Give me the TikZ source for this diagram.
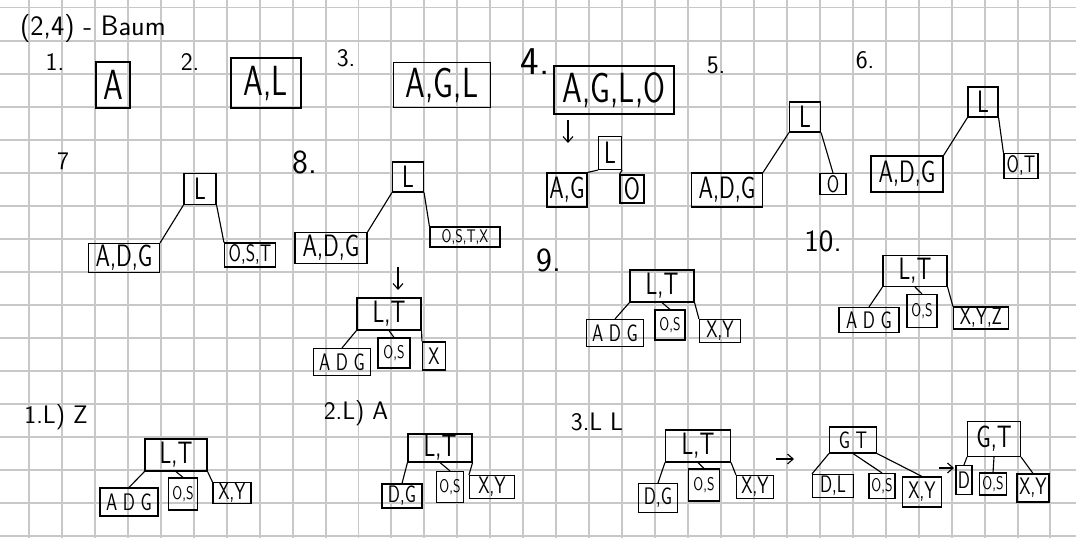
\documentclass[tikz,border=0pt]{standalone}
\usepackage{tikz}
\usepackage{graphicx}
\usetikzlibrary{arrows.meta}
\definecolor{gridgray}{RGB}{200,200,200}
\newcommand{\pxu}{0.025cm}
\newcommand{\hw}[1]{\scalebox{0.75}[1]{#1}}
\tikzset{
	keybox/.style 2 args={draw, line width=0.8pt, inner sep=0pt, minimum width=#1*\pxu, minimum height=#2*\pxu},
	big/.style={font=\sffamily\fontsize{30}{30}\selectfont},
	mid/.style={font=\sffamily\fontsize{22}{22}\selectfont},
	sml/.style={font=\sffamily\fontsize{17}{17}\selectfont},
	tiny/.style={font=\sffamily\fontsize{13}{13}\selectfont},
	lbl/.style={font=\sffamily\fontsize{18}{18}\selectfont},
	link/.style={line width=0.8pt},
	goes/.style={line width=0.8pt,-{Straight Barb[length=4pt,width=7pt]}}
}

\begin{document}
\begin{tikzpicture}[x=0.025cm,y=-0.025cm]
\useasboundingbox (0,0) rectangle (1076,538);
\foreach \i in {0,...,31}{%
	\draw[gridgray,line width=1.4pt] (29+\i*32.95,0) -- (29+\i*32.95,538);
}
\foreach \j in {0,...,16}{%
	\draw[gridgray,line width=1.4pt] (0,7.5+\j*33.05) -- (1076,7.5+\j*33.05);
}

% labels
\node[font=\sffamily\fontsize{20}{20}\selectfont] (title) at (93,28) {(2,4) - Baum};
\node[lbl] (n1) at (55,62) {1.};
\node[lbl] (n2) at (190,62) {2.};
\node[lbl] (n3) at (346,58) {3.};
\node[font=\sffamily\fontsize{28}{28}\selectfont] (n4) at (535,62) {4.};
\node[lbl] (n5) at (716,65) {5.};
\node[lbl] (n6) at (865,60) {6.};
\node[lbl] (n7) at (63,161) {7};
\node[font=\sffamily\fontsize{24}{24}\selectfont] (n8) at (305,162) {8.};
\node[font=\sffamily\fontsize{24}{24}\selectfont] (n9) at (549,260) {9.};
\node[font=\sffamily\fontsize{22}{22}\selectfont] (n10) at (823,241) {10.};
\node[lbl] (d1) at (56,417) {1.L) Z};
\node[lbl] (d2) at (356,413) {2.L) A};
\node[lbl] (d3) at (597,422) {3.L L};

% 1. - 4.
\node[keybox={34}{46},big] (a1) at (113,85) {\hw{A}};
\node[keybox={70}{50},big] (al2) at (266,83) {\hw{A,L}};
\node[keybox={97}{45},big] (agl3) at (442,85) {\hw{A,G,L}};
\node[keybox={120}{48},big] (aglo4) at (614,90) {\hw{A,G,L,O}};
\coordinate (s4) at (568,120);
\coordinate (e4) at (568,143);
\draw[goes] (s4) -- (e4);
\node[keybox={23}{33},mid] (r4) at (610,153) {\hw{L}};
\node[keybox={40}{34},mid] (a4) at (567,190) {\hw{A,G}};
\node[keybox={24}{28},mid] (o4) at (632,189) {\hw{O}};
\draw[link] (r4.south west) -- (a4.north east);
\draw[link] (r4.south east) -- (o4.north west);

% 5. - 7.
\node[keybox={31}{30},mid] (r5) at (805,117) {\hw{L}};
\node[keybox={71}{34},mid] (a5) at (727,190) {\hw{A,D,G}};
\node[keybox={26}{21},sml] (o5) at (833,184) {\hw{O}};
\draw[link] (r5.south west) -- (a5.north east);
\draw[link] (r5.south east) -- (o5.north);

\node[keybox={30}{30},mid] (r6) at (983,102) {\hw{L}};
\node[keybox={72}{36},mid] (a6) at (907,174) {\hw{A,D,G}};
\node[keybox={34}{25},sml] (o6) at (1021,166) {\hw{O,T}};
\draw[link] (r6.south west) -- (a6.north east);
\draw[link] (r6.south east) -- (o6.north west);

\node[keybox={32}{31},mid] (r7) at (200,189) {\hw{L}};
\node[keybox={71}{29},mid] (a7) at (124,258) {\hw{A,D,G}};
\node[keybox={51}{24},sml] (o7) at (250,255) {\hw{O,S,T}};
\draw[link] (r7.south west) -- (a7.north east);
\draw[link] (r7.south east) -- (o7.north west);

% 8.
\node[keybox={31}{30},mid] (r8) at (408,177) {\hw{L}};
\node[keybox={72}{31},mid] (a8) at (331,248) {\hw{A,D,G}};
\node[keybox={70}{20},tiny] (o8) at (465,237) {\hw{O,S,T,X}};
\draw[link] (r8.south west) -- (a8.north east);
\draw[link] (r8.south east) -- (o8.north west);
\coordinate (s8) at (398,267);
\coordinate (e8) at (398,290);
\draw[goes] (s8) -- (e8);
\node[keybox={64}{32},mid] (r8b) at (389,314) {\hw{L,T}};
\node[keybox={57}{27},sml] (a8b) at (342,362) {\hw{A D G}};
\node[keybox={32}{30},tiny] (o8b) at (394,353) {\hw{O,S}};
\node[keybox={23}{28},sml] (x8b) at (434,356) {\hw{X}};
\draw[link] (r8b.south west) -- (a8b.north);
\draw[link] (r8b.south) -- (o8b.north);
\draw[link] (r8b.south east) -- (x8b.north west);

% 9. / 10.
\node[keybox={64}{32},mid] (r9) at (662,286) {\hw{L,T}};
\node[keybox={57}{27},sml] (a9) at (615,333) {\hw{A D G}};
\node[keybox={30}{30},tiny] (o9) at (670,325) {\hw{O,S}};
\node[keybox={41}{23},sml] (x9) at (720,331) {\hw{X,Y}};
\draw[link] (r9.south west) -- (a9.north);
\draw[link] (r9.south) -- (o9.north);
\draw[link] (r9.south east) -- (x9.north west);

\node[keybox={64}{31},mid] (r10) at (915,271) {\hw{L,T}};
\node[keybox={60}{25},sml] (a10) at (869,320) {\hw{A D G}};
\node[keybox={30}{33},tiny] (o10) at (922,311) {\hw{O,S}};
\node[keybox={55}{22},sml] (x10) at (981,318) {\hw{X,Y,Z}};
\draw[link] (r10.south west) -- (a10.north);
\draw[link] (r10.south) -- (o10.north);
\draw[link] (r10.south east) -- (x10.north west);

% loeschen
\node[keybox={62}{32},mid] (rb1) at (176,455) {\hw{L,T}};
\node[keybox={58}{28},sml] (ab1) at (129,502) {\hw{A D G}};
\node[keybox={29}{32},tiny] (ob1) at (183,494) {\hw{O,S}};
\node[keybox={38}{21},sml] (xb1) at (232,493) {\hw{X,Y}};
\draw[link] (rb1.south west) -- (ab1.north);
\draw[link] (rb1.south) -- (ob1.north);
\draw[link] (rb1.south east) -- (xb1.north west);

\node[keybox={64}{28},mid] (rb2) at (440,448) {\hw{L,T}};
\node[keybox={40}{24},sml] (db2) at (402,496) {\hw{D,G}};
\node[keybox={27}{31},tiny] (ob2) at (450,487) {\hw{O,S}};
\node[keybox={45}{23},sml] (xb2) at (492,487) {\hw{X,Y}};
\draw[link] (rb2.south west) -- (db2.north);
\draw[link] (rb2.south) -- (ob2.north);
\draw[link] (rb2.south east) -- (xb2.north west);

\node[keybox={65}{32},mid] (rb3) at (698,446) {\hw{L,T}};
\node[keybox={39}{29},sml] (db3) at (658,498) {\hw{D,G}};
\node[keybox={31}{32},tiny] (ob3) at (704,485) {\hw{O,S}};
\node[keybox={37}{23},sml] (xb3) at (755,487) {\hw{X,Y}};
\draw[link] (rb3.south west) -- (db3.north);
\draw[link] (rb3.south) -- (ob3.north);
\draw[link] (rb3.south east) -- (xb3.north west);
\coordinate (s3a) at (776,459);
\coordinate (e3a) at (794,459);
\draw[goes] (s3a) -- (e3a);

\node[keybox={47}{26},sml] (rc3) at (853,440) {\hw{G T}};
\node[keybox={41}{23},sml] (dc3) at (833,486) {\hw{D,L}};
\node[keybox={26}{25},tiny] (oc3) at (882,486) {\hw{O,S}};
\node[keybox={39}{30},sml] (xc3) at (922,492) {\hw{X,Y}};
\draw[link] (rc3.south west) -- (dc3.north west);
\draw[link] (rc3.south) -- (oc3.north);
\draw[link] (rc3.south east) -- (xc3.north);
\coordinate (s3b) at (939,468);
\coordinate (e3b) at (954,468);
\draw[goes] (s3b) -- (e3b);

\node[keybox={53}{35},mid] (rd3) at (994,439) {\hw{G,T}};
\node[keybox={16}{29},sml] (dd3) at (964,480) {\hw{D}};
\node[keybox={27}{22},tiny] (od3) at (993,484) {\hw{O,S}};
\node[keybox={32}{28},sml] (xd3) at (1033,488) {\hw{X,Y}};
\draw[link] (rd3.south west) -- (dd3.north);
\draw[link] (rd3.south) -- (od3.north);
\draw[link] (rd3.south east) -- (xd3.north);
\end{tikzpicture}
\end{document}
